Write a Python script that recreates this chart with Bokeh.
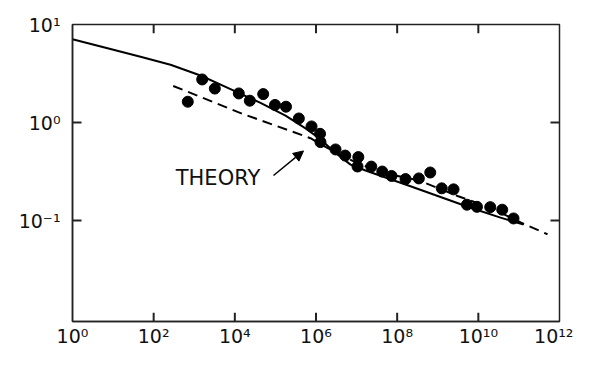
from bokeh.plotting import figure
from bokeh.models import FixedTicker, Arrow, NormalHead, Range1d
from bokeh.core.properties import value
from bokeh.embed import file_html
from bokeh.resources import INLINE

# measured points
pts_x = [693, 1570, 3214, 12530, 23390, 50000, 97700, 182400, 377600, 776000,
         1.256e6, 1.29e6, 3.03e6, 5.25e6, 1.104e7, 1.054e7, 2.31e7, 4.29e7, 7.26e7,
         1.607e8, 3.42e8, 6.53e8, 1.253e9, 2.45e9, 5.24e9, 9.25e9, 1.963e10, 3.88e10, 7.36e10]
pts_y = [1.63, 2.75, 2.22, 1.98, 1.67, 1.95, 1.51, 1.45, 1.10, 0.912,
         0.767, 0.631, 0.531, 0.460, 0.444, 0.356, 0.355, 0.316, 0.285,
         0.265, 0.269, 0.309, 0.213, 0.208, 0.145, 0.138, 0.137, 0.129, 0.105]

# solid curve
solid_x = [1, 8.63, 47.4, 260, 1426, 7834, 42950, 1.774e5, 5.52e5, 1.29e6, 3.03e6,
           7.10e6, 1.66e7, 5.16e7, 2.13e8, 1.17e9, 6.43e9, 3.52e10, 1.30e11]
solid_y = [7.08, 5.62, 4.68, 3.89, 3.02, 2.19, 1.585, 1.175, 0.871, 0.676, 0.490,
           0.372, 0.324, 0.275, 0.224, 0.174, 0.135, 0.107, 0.0912]

# dashed theory curve
theory_x = [303, 15200, 7.33e5, 1.29e6, 4.02e6, 1.25e7, 6.85e7, 3.36e8, 3.07e9, 2.0e10, 1.10e11, 5.07e11]
theory_y = [2.36, 1.23, 0.692, 0.603, 0.468, 0.372, 0.295, 0.257, 0.178, 0.135, 0.0955, 0.0724]

x_ticks = [1, 1e2, 1e4, 1e6, 1e8, 1e10, 1e12]
x_tick_labels = ["10⁰", "10²", "10⁴", "10⁶", "10⁸", "10¹⁰", "10¹²"]
y_ticks = [10, 1, 0.1]
y_tick_labels = ["10¹", "10⁰", "10⁻¹"]

label_text = "THEORY"
label_pos = (3846, 0.269)
arrow_start = (89750, 0.288)
arrow_end = (4.92e5, 0.513)

X_MIN, X_MAX = 1, 1e12
Y_MIN, Y_MAX = 10 ** -2.03, 10

FONT = "DejaVu Sans"
AX = "#222222"

FRAME_W, FRAME_H = 487, 303
p = figure(width=573, height=349, x_axis_type="log", y_axis_type="log",
           x_range=Range1d(X_MIN, X_MAX), y_range=Range1d(Y_MIN, Y_MAX),
           output_backend="svg", toolbar_location=None,
           min_border_left=72, min_border_right=14, min_border_top=24, min_border_bottom=22)
p.outline_line_color = AX
p.outline_line_width = 1.5
p.xgrid.visible = False
p.ygrid.visible = False
p.background_fill_color = "white"
p.border_fill_color = "white"


def style(ax, ticks, labels, standoff):
    ax.ticker = FixedTicker(ticks=ticks, minor_ticks=[])
    ax.axis_line_color = AX
    ax.axis_line_width = 1.5
    ax.major_tick_line_color = None
    ax.major_tick_in = 0
    ax.major_tick_out = 0
    ax.minor_tick_line_color = None
    ax.major_label_overrides = {t: l for t, l in zip(ticks, labels)}
    ax.major_label_text_font = FONT
    ax.major_label_text_font_size = "19px"
    ax.major_label_text_color = "#111111"
    ax.major_label_standoff = standoff


style(p.xaxis[0], x_ticks, x_tick_labels, 3)
style(p.yaxis[0], y_ticks, y_tick_labels, 12)

# inward tick marks on all four sides, drawn as segments
TICK_PX = 9
x_fac = 10 ** (TICK_PX * 12 / FRAME_W)     # 12 decades across the frame width
y_fac = 10 ** (TICK_PX * 3.03 / FRAME_H)   # 3.03 decades across the frame height
inner_x = x_ticks[1:-1]
inner_y = y_ticks[1:]
seg_kw = dict(line_color=AX, line_width=2)
p.segment(x0=inner_x, y0=[Y_MIN] * len(inner_x), x1=inner_x, y1=[Y_MIN * y_fac] * len(inner_x), **seg_kw)
p.segment(x0=inner_x, y0=[Y_MAX] * len(inner_x), x1=inner_x, y1=[Y_MAX / y_fac] * len(inner_x), **seg_kw)
p.segment(x0=[X_MIN] * len(inner_y), y0=inner_y, x1=[X_MIN * x_fac] * len(inner_y), y1=inner_y, **seg_kw)
p.segment(x0=[X_MAX] * len(inner_y), y0=inner_y, x1=[X_MAX / x_fac] * len(inner_y), y1=inner_y, **seg_kw)

p.line(solid_x, solid_y, line_color="black", line_width=2)
p.line(theory_x, theory_y, line_color="black", line_width=2, line_dash="10 6")
p.scatter(pts_x, pts_y, size=11, fill_color="black", line_color="black")

p.text(x=[label_pos[0]], y=[label_pos[1]], text=[label_text], text_font=value(FONT),
       text_font_size="21px", text_align="center", text_baseline="middle", text_color="#111111")

p.add_layout(Arrow(end=NormalHead(size=10, fill_color="black", line_color="black"),
                   x_start=arrow_start[0], y_start=arrow_start[1],
                   x_end=arrow_end[0], y_end=arrow_end[1],
                   line_color="black", line_width=1.5))

open("out.html", "w").write(file_html(p, INLINE))
